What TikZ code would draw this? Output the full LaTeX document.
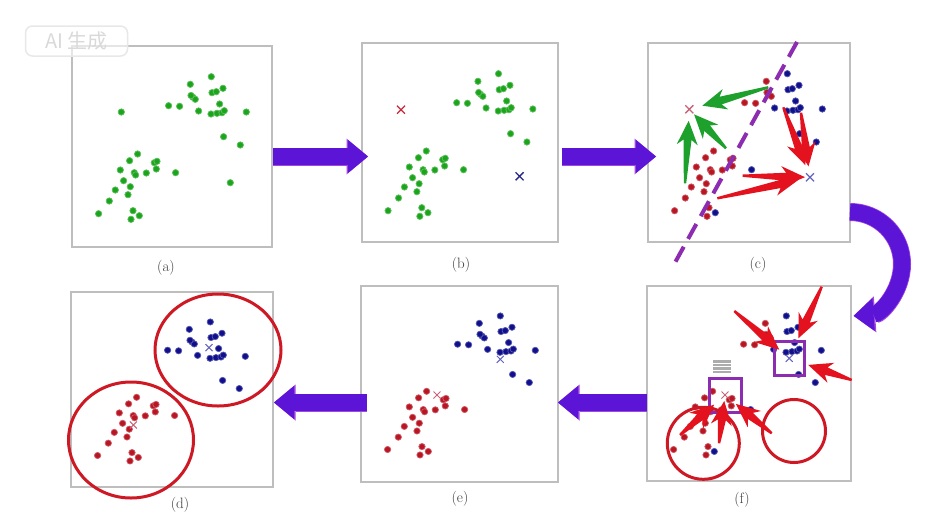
\documentclass[tikz,border=0pt]{standalone}
\usepackage{fontspec}
\newfontfamily\cjkfont{Noto Sans CJK SC}
\usetikzlibrary{shapes.misc, arrows.meta, calc, positioning}

\definecolor{boxgray}{RGB}{190,190,190}
\definecolor{arrowviolet}{RGB}{92,20,214}
\definecolor{arrowedge}{RGB}{160,70,225}
\definecolor{dotgreen}{RGB}{28,165,28}
\definecolor{dotred}{RGB}{185,22,36}
\definecolor{dotblue}{RGB}{16,16,140}
\definecolor{xred}{RGB}{200,40,60}
\definecolor{xblue}{RGB}{40,40,140}
\definecolor{xredpale}{RGB}{200,100,120}
\definecolor{xbluepale}{RGB}{100,100,190}
\definecolor{ringred}{RGB}{206,24,36}
\definecolor{cutviolet}{RGB}{140,44,176}
\definecolor{pushred}{RGB}{228,18,30}
\definecolor{pullgreen}{RGB}{30,160,45}
\definecolor{labelgray}{RGB}{60,60,60}

% point cloud: x/y (from top left of a panel) / side in (c) / final cluster
\def\cloud{139.3/30.7/b/b, 118.3/38.3/r/b, 121/51.3/r/b, 123.3/53.3/r/b, 119/49.5/r/b,
140/46.7/b/b, 144.3/45.7/b/b, 151/42.3/b/b, 147.6/58/b/b, 96.6/59.7/r/b,
107.6/60.3/r/b, 126.6/65/b/b, 139/68/b/b, 145/67.3/b/b, 150/66.7/b/b,
152.3/64.7/b/b, 174.3/66/b/b, 151.6/90.7/b/b, 168.3/99/b/b,
65.6/108/r/r, 57.6/114.7/r/r, 82.3/116.7/r/r, 85/115.3/r/r, 84.3/123/r/r,
48.3/124/r/r, 62.3/126.7/r/r, 63.6/129/r/r, 74.3/127/r/r, 103.6/126.7/b/r,
51.6/134.7/r/r, 58.3/140.7/r/r, 43.3/144/r/r, 56/148.7/r/r, 37.3/155/r/r,
26.6/167.7/r/r, 61/164.7/r/r, 67.3/169.7/b/r, 59/173.3/r/r}

\tikzset{
  panel/.style={draw=boxgray, line width=2pt, fill=white, inner sep=0pt, outer sep=0pt},
  dotg/.style={fill=dotgreen, draw=dotgreen!70, line width=0.7pt},
  dotr/.style={fill=dotred, draw=dotred!70, line width=0.7pt},
  dotb/.style={fill=dotblue, draw=dotblue!70, line width=0.7pt},
  xmark/.style={cross out, draw, line width=1.3pt, minimum size=8pt, inner sep=0pt, outer sep=0pt},
  lbl/.style={text=labelgray, font=\fontsize{15}{17}\selectfont},
  bigarrow/.style={draw=arrowviolet, line width=16.5pt,
    -{Triangle[length=20pt, width=33pt, line width=0pt]},
    preaction={draw=arrowedge, line width=18pt, -{Triangle[length=21.5pt, width=36pt, line width=0pt]}}},
  cutline/.style={draw=cutviolet, line width=4pt, dash pattern=on 17pt off 9pt},
  ring/.style={draw=ringred, line width=3pt},
  selbox/.style={draw=cutviolet, line width=3pt, minimum width=32pt, minimum height=34pt, inner sep=0pt},
  stackicon/.style={fill=gray!65, minimum width=18pt, minimum height=13pt, inner sep=0pt},
}

% fat tapered arrow: colour, tail, target, gap before target
\newcommand\fatarrow[4]{%
  \coordinate (fattip) at ($(#3)!#4!(#2)$);
  \coordinate (fatneck) at ($(fattip)!19pt!(#2)$);
  \coordinate (fatbarb) at ($(fattip)!24pt!(#2)$);
  \path[fill=#1] ($(#2)!1.2pt!90:(fattip)$) -- ($(fatneck)!4pt!90:(fattip)$)
    -- ($(fatbarb)!10.5pt!90:(fattip)$) -- (fattip) -- ($(fatbarb)!10.5pt!-90:(fattip)$)
    -- ($(fatneck)!4pt!-90:(fattip)$) -- ($(#2)!1.2pt!-90:(fattip)$) -- cycle;}

\begin{document}
\begin{tikzpicture}[x=1pt, y=-1pt]
  \useasboundingbox[fill=white] (0,0) rectangle (934,531);

  % Panels
  \node[panel, minimum width=200pt, minimum height=201pt] (pa) at (172,146.5) {};
  \node[panel, minimum width=196pt, minimum height=199pt] (pb) at (460,142.5) {};
  \node[panel, minimum width=202pt, minimum height=199pt] (pc) at (749,142.5) {};
  \node[panel, minimum width=202pt, minimum height=195pt] (pd) at (172,389.5) {};
  \node[panel, minimum width=197pt, minimum height=196pt] (pe) at (459.5,384) {};
  \node[panel, minimum width=204pt, minimum height=195pt] (pf) at (749,383.5) {};

  % Captions
  \node[lbl] (la) at (166,268) {(a)};
  \node[lbl] (lb) at (461,265) {(b)};
  \node[lbl] (lc) at (758,265) {(c)};
  \node[lbl] (ld) at (180,505) {(d)};
  \node[lbl] (le) at (460,499) {(e)};
  \node[lbl] (lf) at (742,500) {(f)};

  % (a) raw data
  \begin{scope}[shift={(pa.north west)}]
    \foreach \x/\y/\c/\k in \cloud {\path[dotg] (\x,\y) circle (3.2);}
    \path[dotg] (49.3,66) circle (3.2);
    \path[dotg] (158.3,136.7) circle (3.2);
  \end{scope}

  % (b) two starting centres
  \begin{scope}[shift={(pb.north west)}, xscale=0.98]
    \foreach \x/\y/\c/\k in \cloud {\path[dotg] (\x,\y) circle (3.2);}
    \node[xmark, draw=xred] (bxr) at (39.8,66.7) {};
    \node[xmark, draw=xblue] (bxb) at (160.8,133.3) {};
  \end{scope}

  % (c) assignment
  \begin{scope}[shift={(pc.north west)}]
    \foreach \x/\y/\c/\k in \cloud {\path[dot\c] (\x,\y) circle (3.2);}
    \node[xmark, draw=xredpale] (cxr) at (41.3,66.3) {};
    \node[xmark, draw=xbluepale] (cxb) at (162,134.3) {};
  \end{scope}
  \coordinate (cuttop) at (797,42);
  \coordinate (cutbot) at (672,268);
  \draw[cutline] (cuttop) -- (cutbot);
  \coordinate (g1) at (768.3,87.3);
  \coordinate (g2) at (726,148.3);
  \coordinate (g3) at (685,183.3);
  \coordinate (r1) at (783.3,107.3);
  \coordinate (r2) at (801,112.7);
  \coordinate (r3) at (742.7,175.7);
  \coordinate (r4) at (717.3,198.3);
  \fatarrow{pullgreen}{g1}{cxr}{13.5pt}
  \fatarrow{pullgreen}{g2}{cxr}{7pt}
  \fatarrow{pullgreen}{g3}{cxr}{11.5pt}
  \fatarrow{pushred}{r1}{cxb}{13pt}
  \fatarrow{pushred}{r2}{cxb}{11pt}
  \fatarrow{pushred}{r3}{cxb}{5pt}
  \fatarrow{pushred}{r4}{cxb}{12pt}

  % (f) centres move
  \begin{scope}[shift={(pf.north west)}, yscale=0.975]
    \foreach \x/\y/\c/\k in \cloud {\path[dot\c] (\x,\y) circle (3.2);}
    \node[xmark, draw=xbluepale, minimum size=7pt, line width=1pt] (fxb) at (142.3,74.2) {};
    \node[xmark, draw=xredpale, minimum size=7pt, line width=1pt] (fxr) at (78,111.8) {};
  \end{scope}
  \node[selbox, minimum width=30pt] (fsqb) at (fxb) {};
  \node[selbox] (fsqr) at (fxr) {};
  \node[stackicon, above=3pt of fsqr, xshift=-3pt] (ficon) {};
  \foreach \dy in {-3.2,0,3.2}
    \draw[white, line width=1pt] ([yshift=\dy pt]ficon.west) -- ([yshift=\dy pt]ficon.east);
  \draw[ring] (703.3,443.3) circle (36);
  \draw[ring] (794,431) circle (31.5);
  \coordinate (f1) at (734.3,311);
  \coordinate (f2) at (821.7,286.7);
  \coordinate (f3) at (851.7,380);
  \coordinate (f4) at (680,435);
  \coordinate (f5) at (719,443.3);
  \coordinate (f6) at (771.7,433.3);
  \fatarrow{pushred}{f1}{fsqb}{13.3pt}
  \fatarrow{pushred}{f2}{fsqb}{22pt}
  \fatarrow{pushred}{f3}{fsqb}{20pt}
  \fatarrow{pushred}{f4}{fsqr}{14.5pt}
  \fatarrow{pushred}{f5}{fsqr}{6pt}
  \fatarrow{pushred}{f6}{fsqr}{14pt}

  % (e) new clusters
  \begin{scope}[shift={(pe.north west)}, yscale=0.975]
    \foreach \x/\y/\c/\k in \cloud {\path[dot\k] (\x,\y) circle (3.2);}
    \node[xmark, draw=xbluepale, minimum size=7pt, line width=1pt] (exb) at (139.3,75.2) {};
    \node[xmark, draw=xredpale, minimum size=7pt, line width=1pt] (exr) at (76,111.8) {};
  \end{scope}

  % (d) final result
  \begin{scope}[shift={(pd.north west)}, yscale=0.975]
    \foreach \x/\y/\c/\k in \cloud {\path[dot\k] (\x,\y) circle (3.2);}
    \node[xmark, draw=xbluepale, minimum size=7pt, line width=1pt] (dxb) at (138,57.1) {};
    \node[xmark, draw=xredpale, minimum size=7pt, line width=1pt] (dxr) at (62.3,136.4) {};
  \end{scope}
  \draw[ring] (218,350) ellipse [x radius=63, y radius=56];
  \draw[ring] (131,440) ellipse [x radius=62.5, y radius=58];

  % Big arrows between panels
  \coordinate (toprow) at (0,156.5);
  \coordinate (botrow) at (0,402.5);
  \draw[bigarrow] ($(pa.east |- toprow)+(1,0)$) -- ($(pb.west |- toprow)+(6,0)$);
  \draw[bigarrow] ($(pb.east |- toprow)+(3.5,0)$) -- ($(pc.west |- toprow)+(8,0)$);
  \draw[bigarrow] ($(pc.east)+(0,69.5)$) arc[start angle=-90, end angle=86, radius=52];
  \draw[bigarrow] (pf.west |- botrow) -- (pe.east |- botrow);
  \draw[bigarrow] ($(pe.west |- botrow)+(5.5,0)$) -- ($(pd.east |- botrow)+(1,0)$);

  % Watermark
  \node[draw=gray!18, line width=1.5pt, rounded corners=7pt, fill=white, fill opacity=0.6,
    text opacity=1, text=gray!30, font=\cjkfont\fontsize{20}{20}\selectfont,
    minimum width=102pt, minimum height=30pt] (mark) at (76.5,41) {AI 生成};
\end{tikzpicture}
\end{document}
